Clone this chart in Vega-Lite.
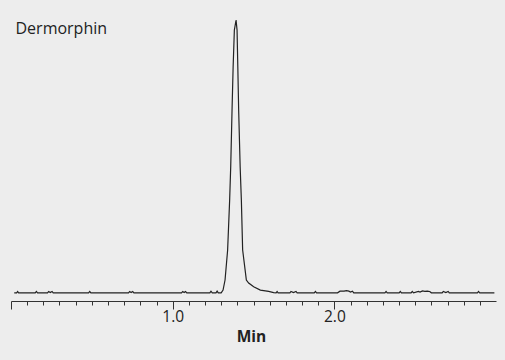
{
  "$schema": "https://vega.github.io/schema/vega-lite/v6.json",
  "width": 485,
  "height": 281,
  "autosize": {"type": "none"},
  "padding": {"left": 11, "top": 20, "right": 9, "bottom": 59},
  "background": "#ededed",
  "config": {"view": {"stroke": null}},
  "title": {
    "text": "Dermorphin",
    "anchor": "start",
    "font": "Open Sans",
    "fontSize": 16,
    "fontWeight": "normal",
    "color": "#222222",
    "baseline": "alphabetic",
    "offset": 0,
    "dx": 5,
    "dy": 32
  },
  "data": {
    "values": [
      {"t": 0.02, "v": 0},
      {"t": 0.035, "v": 0}, {"t": 0.041, "v": 0.5}, {"t": 0.047, "v": 0},
      {"t": 0.15, "v": 0}, {"t": 0.157, "v": 0.5}, {"t": 0.164, "v": 0},
      {"t": 0.226, "v": 0}, {"t": 0.233, "v": 0.5}, {"t": 0.243, "v": 0.1}, {"t": 0.254, "v": 0.5}, {"t": 0.261, "v": 0},
      {"t": 0.48, "v": 0}, {"t": 0.487, "v": 0.5}, {"t": 0.494, "v": 0},
      {"t": 0.727, "v": 0}, {"t": 0.734, "v": 0.5}, {"t": 0.743, "v": 0.1}, {"t": 0.753, "v": 0.5}, {"t": 0.76, "v": 0},
      {"t": 1.055, "v": 0}, {"t": 1.062, "v": 0.5}, {"t": 1.071, "v": 0.1}, {"t": 1.08, "v": 0.5}, {"t": 1.087, "v": 0},
      {"t": 1.23, "v": 0}, {"t": 1.237, "v": 0.6}, {"t": 1.245, "v": 0},
      {"t": 1.268, "v": 0}, {"t": 1.275, "v": 0.6}, {"t": 1.282, "v": 0},
      {"t": 1.3, "v": 0},
      {"t": 1.3117, "v": 1.0},
      {"t": 1.324, "v": 4.7},
      {"t": 1.34, "v": 15.7},
      {"t": 1.3525, "v": 34.0},
      {"t": 1.359, "v": 46.1},
      {"t": 1.3673, "v": 67.0},
      {"t": 1.374, "v": 82.8},
      {"t": 1.3816, "v": 96.3},
      {"t": 1.3921, "v": 100},
      {"t": 1.3983, "v": 96.3},
      {"t": 1.403, "v": 82.8},
      {"t": 1.4082, "v": 67.0},
      {"t": 1.4175, "v": 46.1},
      {"t": 1.4249, "v": 34.0},
      {"t": 1.4329, "v": 15.7},
      {"t": 1.4558, "v": 4.7},
      {"t": 1.47, "v": 3.6},
      {"t": 1.501, "v": 2.2},
      {"t": 1.5424, "v": 1.0},
      {"t": 1.5937, "v": 0.55},
      {"t": 1.6246, "v": 0.05},
      {"t": 1.64, "v": 0}, {"t": 1.646, "v": 0.5}, {"t": 1.652, "v": 0},
      {"t": 1.725, "v": 0}, {"t": 1.732, "v": 0.5}, {"t": 1.747, "v": 0.1}, {"t": 1.763, "v": 0.5}, {"t": 1.77, "v": 0},
      {"t": 1.876, "v": 0}, {"t": 1.883, "v": 0.5}, {"t": 1.89, "v": 0},
      {"t": 2.02, "v": 0}, {"t": 2.035, "v": 0.6}, {"t": 2.06, "v": 0.6}, {"t": 2.075, "v": 0.8}, {"t": 2.09, "v": 0.6}, {"t": 2.1, "v": 0.3}, {"t": 2.112, "v": 0.6}, {"t": 2.12, "v": 0},
      {"t": 2.313, "v": 0}, {"t": 2.32, "v": 0.5}, {"t": 2.327, "v": 0},
      {"t": 2.401, "v": 0}, {"t": 2.408, "v": 0.5}, {"t": 2.415, "v": 0},
      {"t": 2.475, "v": 0}, {"t": 2.482, "v": 0.5}, {"t": 2.49, "v": 0}, {"t": 2.52, "v": 0.5}, {"t": 2.53, "v": 0.3}, {"t": 2.545, "v": 0.7}, {"t": 2.56, "v": 0.5}, {"t": 2.575, "v": 0.6}, {"t": 2.59, "v": 0.5}, {"t": 2.6, "v": 0},
      {"t": 2.667, "v": 0}, {"t": 2.674, "v": 0.5}, {"t": 2.69, "v": 0.1}, {"t": 2.704, "v": 0.5}, {"t": 2.711, "v": 0},
      {"t": 2.885, "v": 0}, {"t": 2.892, "v": 0.5}, {"t": 2.899, "v": 0},
      {"t": 2.99, "v": 0}
    ]
  },
  "mark": {"type": "line", "color": "#222222", "strokeWidth": 1.2, "interpolate": "linear"},
  "encoding": {
    "x": {
      "field": "t",
      "type": "quantitative",
      "scale": {"domain": [0, 3], "nice": false, "zero": false},
      "axis": {
        "title": "Min",
        "titleFont": "Open Sans",
        "titleFontSize": 15.5,
        "titleFontWeight": "bold",
        "titleColor": "#222222",
        "titlePadding": 5,
        "titleX": 240,
        "values": [0, 0.1, 0.2, 0.3, 0.4, 0.5, 0.6, 0.7, 0.8, 0.9, 1, 1.1, 1.2, 1.3, 1.4, 1.5, 1.6, 1.7, 1.8, 1.9, 2, 2.1, 2.2, 2.3, 2.4, 2.5, 2.6, 2.7, 2.8, 2.9],
        "labelExpr": "datum.value == 1 || datum.value == 2 ? format(datum.value, '.1f') : ''",
        "labelFont": "Open Sans",
        "labelFontSize": 15.5,
        "labelColor": "#222222",
        "labelPadding": 0,
        "labelFlush": false,
        "labelOverlap": false,
        "domainColor": "#333333",
        "domainWidth": 1,
        "tickColor": "#333333",
        "tickWidth": 1,
        "tickSize": {"condition": {"test": "datum.value == 0 || datum.value == 1 || datum.value == 2", "value": 8}, "value": 4},
        "grid": false
      }
    },
    "y": {
      "field": "v",
      "type": "quantitative",
      "scale": {"domain": [-3, 100], "nice": false, "zero": false},
      "axis": null
    }
  }
}
